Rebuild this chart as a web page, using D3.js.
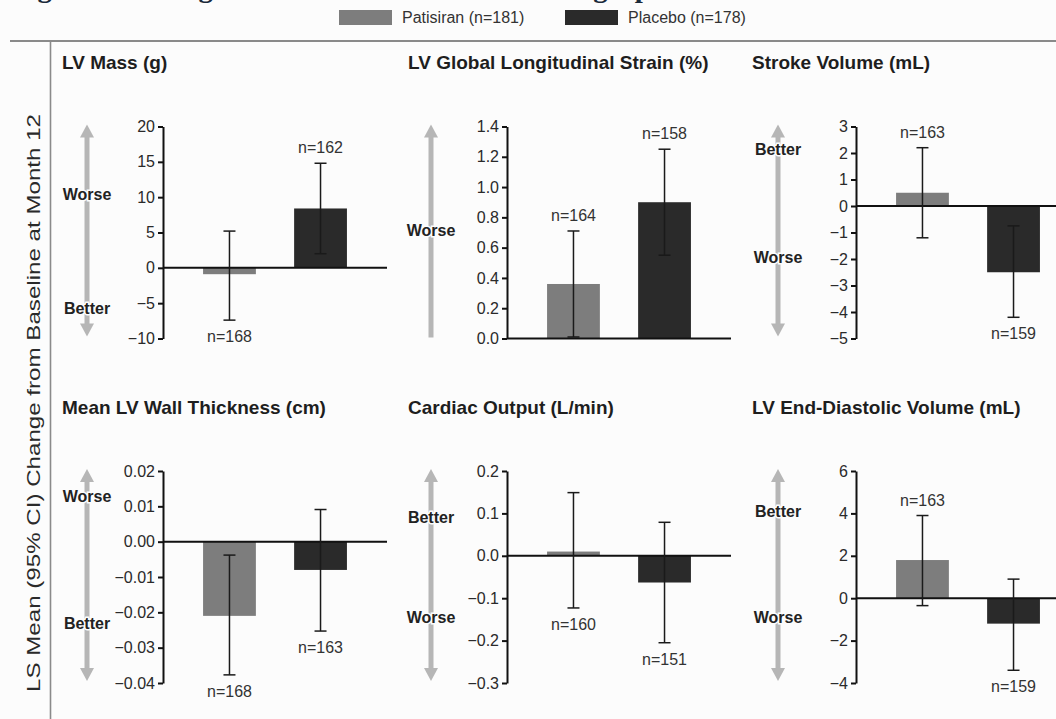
<!DOCTYPE html>
<html>
<head>
<meta charset="utf-8">
<script src="https://cdn.jsdelivr.net/npm/d3@7"></script>
<style>
  html, body { margin: 0; padding: 0; background: #fcfcfc; }
  svg { display: block; }
  text { font-family: "Liberation Sans", Arial, sans-serif; }
</style>
</head>
<body>
<div id="chart"></div>
<script>
// data
const groups = ["Patisiran", "Placebo"];
const groupN = [181, 178];
const panelTitles = [
  "LV Mass (g)",
  "LV Global Longitudinal Strain (%)",
  "Stroke Volume (mL)",
  "Mean LV Wall Thickness (cm)",
  "Cardiac Output (L/min)",
  "LV End-Diastolic Volume (mL)"
];
const means  = [[-0.9, 8.4], [0.36, 0.90], [0.5, -2.5], [-0.021, -0.008], [0.01, -0.063], [1.8, -1.2]];
const ciLow  = [[-7.4, 2.0], [0.01, 0.55], [-1.2, -4.2], [-0.0377, -0.0253], [-0.123, -0.205], [-0.35, -3.4]];
const ciHigh = [[5.2, 14.8], [0.71, 1.25], [2.2, -0.75], [-0.0038, 0.0091], [0.149, 0.079], [3.9, 0.9]];
const nCounts = [[168, 162], [164, 158], [163, 159], [168, 163], [160, 151], [163, 159]];
const nSide = [["below", "above"], ["above", "above"], ["above", "below"],
               ["below", "below"], ["below", "below"], ["above", "below"]];
const yDomains = [[-10, 20], [0, 1.4], [-5, 3], [-0.04, 0.02], [-0.3, 0.2], [-4, 6]];
const yTicks = [
  [-10, -5, 0, 5, 10, 15, 20],
  [0, 0.2, 0.4, 0.6, 0.8, 1.0, 1.2, 1.4],
  [-5, -4, -3, -2, -1, 0, 1, 2, 3],
  [-0.04, -0.03, -0.02, -0.01, 0, 0.01, 0.02],
  [-0.3, -0.2, -0.1, 0, 0.1, 0.2],
  [-4, -2, 0, 2, 4, 6]
];
const yFormats = ["d", ".1f", "d", ".2f", ".1f", "d"];
const directionLabels = [["Worse", "Better"], ["Worse"], ["Better", "Worse"],
                         ["Worse", "Better"], ["Better", "Worse"], ["Better", "Worse"]];
const figureTitle = "Figure 2: Changes from Baseline in Echocardiographic Parameters";
const yAxisLabel = "LS Mean (95% CI) Change from Baseline at Month 12";

// layout
const width = 1056, height = 719;
const colAxisX = [163, 507, 856];
const colArrowX = [87, 431, 778];
const colTitleX = [62, 408, 752];
const rowTop = [126.5, 471];
const rowBottom = [338.5, 683];
const rowTitleY = [69, 414];
const plotWidth = 224;
const labelFrac = [[0.32, 0.86], [0.49], [0.11, 0.62], [0.12, 0.72], [0.22, 0.69], [0.19, 0.69]];
const colors = ["#7d7d7d", "#2a2a2a"];
const arrowColor = "#b6b6b6";
const bodySize = 16;

const svg = d3.select("#chart").append("svg")
  .attr("width", width)
  .attr("height", height);

svg.append("rect").attr("width", width).attr("height", height).attr("fill", "#fcfcfc");

// figure title, cut off at the top edge as in the source
svg.append("text")
  .attr("x", 12).attr("y", -3)
  .attr("font-weight", "bold")
  .attr("font-size", 27)
  .attr("textLength", 825)
  .attr("lengthAdjust", "spacingAndGlyphs")
  .attr("fill", "#1a2a3a")
  .style("font-family", "'Liberation Serif', 'Times New Roman', serif")
  .text(figureTitle);

// legend
const legend = svg.append("g");
const legendX = [339, 565];
groups.forEach((g, i) => {
  legend.append("rect")
    .attr("x", legendX[i]).attr("y", 10)
    .attr("width", 53).attr("height", 15)
    .attr("fill", colors[i]);
  legend.append("text")
    .attr("x", legendX[i] + 63).attr("y", 23)
    .attr("font-size", bodySize)
    .attr("fill", "#333")
    .text(g + " (n=" + groupN[i] + ")");
});

// frame lines
svg.append("line")
  .attr("x1", 10).attr("x2", width).attr("y1", 41).attr("y2", 41)
  .attr("stroke", "#8a8a8a").attr("stroke-width", 2);
svg.append("line")
  .attr("x1", 50.5).attr("x2", 50.5).attr("y1", 41).attr("y2", height)
  .attr("stroke", "#8a8a8a").attr("stroke-width", 1.6);

svg.append("text")
  .attr("transform", "translate(40," + 403 + ") rotate(-90)")
  .attr("text-anchor", "middle")
  .attr("font-size", 19)
  .attr("textLength", 578)
  .attr("lengthAdjust", "spacingAndGlyphs")
  .attr("fill", "#2a2a2a")
  .text(yAxisLabel);

function drawArrow(g, x, y1, y2, doubleHead) {
  const head = 13, hw = 7;
  const top = y1 + head, bottom = doubleHead ? y2 - head : y2;
  g.append("line")
    .attr("x1", x).attr("x2", x).attr("y1", top - 1).attr("y2", bottom + 1)
    .attr("stroke", arrowColor).attr("stroke-width", 5);
  g.append("path")
    .attr("d", d3.line()([[x - hw, top], [x, y1], [x + hw, top]]) + "Z")
    .attr("fill", arrowColor);
  if (doubleHead) {
    g.append("path")
      .attr("d", d3.line()([[x - hw, bottom], [x, y2], [x + hw, bottom]]) + "Z")
      .attr("fill", arrowColor);
  }
}

panelTitles.forEach((title, p) => {
  const col = p % 3, row = Math.floor(p / 3);
  const g = svg.append("g");
  const axisX = colAxisX[col];

  const y = d3.scaleLinear().domain(yDomains[p]).range([rowBottom[row], rowTop[row]]);
  const x = d3.scaleBand().domain(groups)
    .range([axisX, axisX + plotWidth])
    .paddingInner(0.42).paddingOuter(0.44);

  // title
  g.append("text")
    .attr("x", colTitleX[col]).attr("y", rowTitleY[row])
    .attr("font-size", 19).attr("font-weight", "bold")
    .attr("fill", "#1e1e1e")
    .text(title);

  // direction arrow
  const labels = directionLabels[p];
  drawArrow(g, colArrowX[col], rowTop[row] - 2, rowBottom[row] - 2, labels.length > 1);
  labels.forEach((lab, i) => {
    const ly = rowTop[row] + labelFrac[p][i] * (rowBottom[row] - rowTop[row]);
    g.append("text")
      .attr("x", colArrowX[col]).attr("y", ly + 5.5)
      .attr("text-anchor", "middle")
      .attr("font-size", bodySize).attr("font-weight", "bold")
      .attr("fill", "#222")
      .attr("stroke", "#fcfcfc").attr("stroke-width", 3)
      .attr("paint-order", "stroke")
      .text(lab);
  });

  // bars
  g.selectAll(".bar").data(groups).enter()
    .append("rect")
    .attr("class", "bar")
    .attr("x", (d) => x(d))
    .attr("width", x.bandwidth())
    .attr("y", (d, i) => Math.min(y(means[p][i]), y(0)))
    .attr("height", (d, i) => Math.abs(y(means[p][i]) - y(0)))
    .attr("fill", (d, i) => colors[i]);

  // zero line
  g.append("line")
    .attr("x1", axisX).attr("x2", axisX + plotWidth)
    .attr("y1", y(0)).attr("y2", y(0))
    .attr("stroke", "#111").attr("stroke-width", 2);

  // error bars + n labels
  groups.forEach((d, i) => {
    const cx = x(d) + x.bandwidth() / 2;
    const lo = y(ciLow[p][i]), hi = y(ciHigh[p][i]);
    g.append("line")
      .attr("x1", cx).attr("x2", cx).attr("y1", hi).attr("y2", lo)
      .attr("stroke", "#1a1a1a").attr("stroke-width", 1.5);
    [hi, lo].forEach((cy) => {
      g.append("line")
        .attr("x1", cx - 6).attr("x2", cx + 6).attr("y1", cy).attr("y2", cy)
        .attr("stroke", "#1a1a1a").attr("stroke-width", 1.5);
    });
    const above = nSide[p][i] == "above";
    g.append("text")
      .attr("x", cx)
      .attr("y", above ? hi - 10 : lo + 22)
      .attr("text-anchor", "middle")
      .attr("font-size", bodySize)
      .attr("fill", "#333")
      .text("n=" + nCounts[p][i]);
  });

  // y axis
  const axis = d3.axisLeft(y)
    .tickValues(yTicks[p])
    .tickFormat(d3.format(yFormats[p]))
    .tickSize(5).tickSizeOuter(0).tickPadding(3);
  const ag = g.append("g")
    .attr("transform", "translate(" + axisX + ",0)")
    .call(axis);
  ag.select(".domain").attr("stroke", "#111").attr("stroke-width", 2);
  ag.selectAll(".tick line").attr("stroke", "#111").attr("stroke-width", 2);
  ag.selectAll(".tick text")
    .attr("font-size", bodySize)
    .attr("font-family", "'Liberation Sans', Arial, sans-serif")
    .attr("fill", "#2a2a2a");
});
</script>
</body>
</html>
